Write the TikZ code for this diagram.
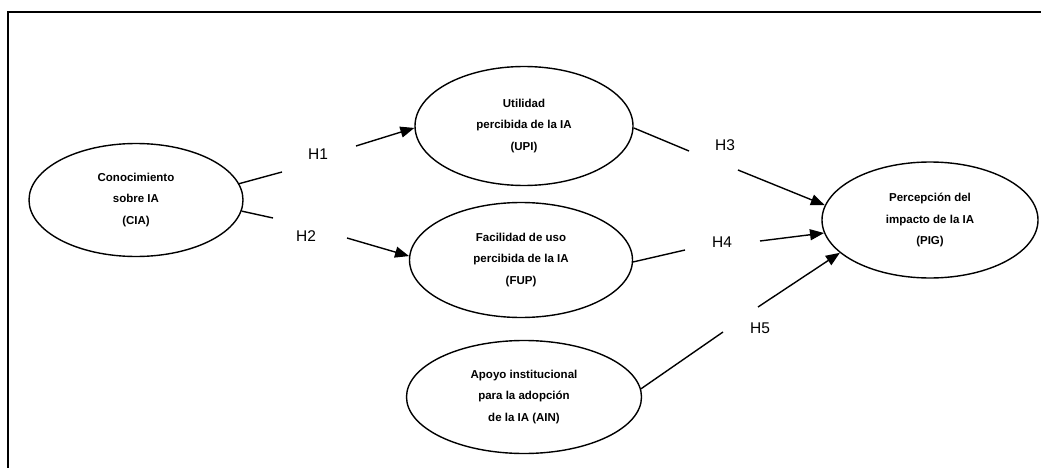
\documentclass[tikz,border=0pt]{standalone}
\usepackage{fontspec}
\setmainfont{Liberation Sans}
\usetikzlibrary{shapes.geometric,arrows.meta}
\begin{document}
\begin{tikzpicture}[x=1pt,y=-1pt,
  construct/.style={draw,line width=1.4pt,ellipse,inner sep=0pt,align=center,
    font=\fontsize{11.5}{21.5}\selectfont\bfseries},
  link/.style={line width=1.4pt},
  linkarrow/.style={line width=1.4pt,-{Triangle[length=14pt,width=11pt]}},
  hyp/.style={font=\fontsize{15.5}{18}\selectfont,inner sep=0pt}]
\useasboundingbox (0,0) rectangle (1041,468);
\draw[line width=1.8pt] (8,468) -- (8,12) -- (1041,12);
\node[construct,minimum width=214pt,minimum height=113pt] (cia) at (136,200) {Conocimiento\\sobre IA\\(CIA)};
\node[construct,minimum width=218pt,minimum height=119pt] (upi) at (524,126) {Utilidad\\percibida de la IA\\(UPI)};
\node[construct,minimum width=223pt,minimum height=115pt] (fup) at (521,260) {Facilidad de uso\\percibida de la IA\\(FUP)};
\node[construct,minimum width=235pt,minimum height=113pt] (ain) at (524,397) {Apoyo institucional\\para la adopción\\de la IA (AIN)};
\node[construct,minimum width=216pt,minimum height=116pt] (pig) at (930,220) {Percepción del\\impacto de la IA\\(PIG)};
\node[hyp] (h1) at (318,154) {H1};
\node[hyp] (h2) at (306,236) {H2};
\node[hyp] (h3) at (725,145) {H3};
\node[hyp] (h4) at (722,242) {H4};
\node[hyp] (h5) at (760,328) {H5};
\coordinate (h1a) at (282,172); \coordinate (h1b) at (356,146);
\coordinate (h2a) at (273,218); \coordinate (h2b) at (347,238);
\coordinate (h3a) at (689,151); \coordinate (h3b) at (738,170);
\coordinate (h4a) at (685,250); \coordinate (h4b) at (760,241);
\coordinate (h5a) at (723,332); \coordinate (h5b) at (758,307);
\draw[link] (cia.9) -- (h1a);
\draw[linkarrow] (h1b) -- (upi.181);
\draw[link] (cia.-6) -- (h2a);
\draw[linkarrow] (h2b) -- (fup.178);
\draw[link] (upi.-1) -- (h3a);
\draw[linkarrow] (h3b) -- (pig.172);
\draw[link] (fup.-1) -- (h4a);
\draw[linkarrow] (h4b) -- (pig.187);
\draw[link] (ain.4) -- (h5a);
\draw[linkarrow] (h5b) -- (pig.200);
\end{tikzpicture}
\end{document}
